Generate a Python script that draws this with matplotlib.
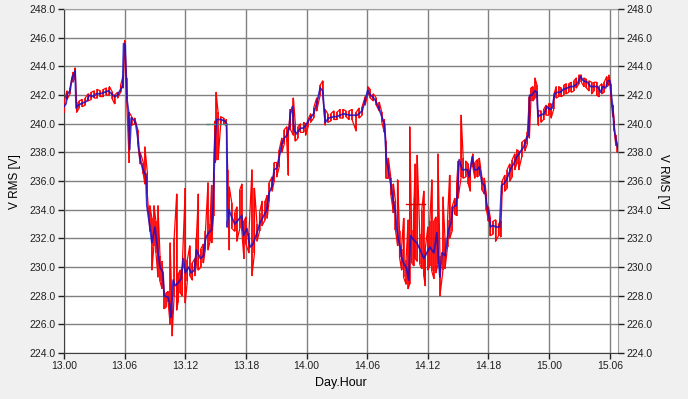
import numpy as np
import matplotlib
matplotlib.use("Agg")
import matplotlib.pyplot as plt

plt.rcParams['font.family'] = ['Liberation Sans', 'DejaVu Sans']

# blue series: hours since day 13 00:00, volts
blue_h = [0.0, 0.2, 0.35, 0.6, 0.8, 1.0, 1.1, 1.2, 1.4, 1.7, 2.0, 2.3, 2.5, 2.9, 3.2, 3.6, 4.0, 4.4, 4.7, 5.0,
          5.3, 5.6, 5.8, 5.9, 6.05, 6.15, 6.25, 6.4, 6.5, 6.65, 6.9, 7.1, 7.35, 7.5, 7.8, 8.1, 8.2, 8.5, 8.7, 9.0,
          9.2, 9.5, 9.8, 9.9, 10.3, 10.5, 10.6, 10.8, 11.0, 11.3, 11.6, 11.8, 12.0, 12.3, 12.6, 12.9, 13.1, 13.5, 13.8, 14.0,
          14.3, 14.6, 14.75, 14.95, 15.1, 15.5, 15.9, 16.1, 16.15, 16.3, 16.6, 16.9, 17.25, 17.6, 17.75, 18.1, 18.4, 18.7, 19.1, 19.4,
          19.7, 20.06, 20.3, 20.56, 20.8, 21.05, 21.3, 21.55, 21.8, 22.05, 22.3, 22.4, 22.6, 22.75, 23.0, 23.4, 23.7, 24.0, 24.36, 24.7,
          25.0, 25.35, 25.6, 25.84, 26.2, 26.7, 27.0, 27.65, 28.3, 29.0, 29.5, 29.8, 30.06, 30.2, 30.5, 30.8, 31.1, 31.45, 31.7, 31.9,
          32.1, 32.35, 32.6, 32.8, 32.9, 33.1, 33.3, 33.4, 33.6, 33.9, 34.1, 34.3, 34.6, 34.9, 35.25, 35.6, 35.9, 36.2, 36.6, 36.9,
          37.06, 37.2, 37.4, 37.7, 38.05, 38.3, 38.5, 38.8, 38.97, 39.1, 39.4, 39.6, 39.9, 40.1, 40.4, 40.6, 40.9, 41.1, 41.35, 41.6,
          41.8, 42.0, 42.2, 42.4, 42.8, 43.1, 43.3, 43.5, 43.8, 44.0, 44.3, 44.5, 44.8, 45.1, 45.5, 45.8, 45.97, 46.07, 46.3, 46.5,
          46.6, 46.8, 46.9, 47.1, 47.5, 47.8, 48.05, 48.3, 48.55, 48.8, 49.1, 49.4, 49.8, 50.1, 50.4, 50.8, 51.1, 51.4, 51.8, 52.1,
          52.4, 52.8, 53.1, 53.3, 53.6, 53.8, 54.0, 54.1, 54.3, 54.4, 54.6, 54.8]
blue_v = [241.2, 241.4, 242.1, 242.3, 243.2, 243.5, 243.7, 241.1, 241.3, 241.4, 241.5, 241.6, 242.0, 241.9, 242.1, 242.1, 242.2, 242.3, 242.1, 241.9,
          242.0, 242.4, 242.6, 245.6, 245.5, 243.0, 241.6, 240.8, 238.2, 240.4, 240.3, 240.0, 238.8, 237.7, 236.8, 236.4, 234.3, 232.8, 231.7, 232.8,
          231.6, 230.0, 229.6, 228.0, 227.9, 227.3, 226.5, 229.1, 228.7, 228.9, 229.2, 230.6, 229.6, 230.0, 229.6, 229.8, 231.2, 230.6, 230.8, 232.0,
          232.4, 232.6, 234.2, 239.0, 240.3, 240.3, 240.2, 240.0, 232.8, 234.0, 233.5, 233.0, 233.3, 233.6, 232.2, 232.7, 231.4, 231.6, 232.4, 233.1,
          233.5, 234.0, 235.2, 235.6, 236.8, 236.9, 237.7, 238.6, 239.0, 239.2, 239.8, 240.7, 241.2, 239.6, 239.3, 239.7, 239.7, 240.0, 240.4, 240.7,
          241.4, 242.5, 242.3, 240.1, 240.4, 240.5, 240.5, 240.7, 240.6, 240.6, 240.9, 241.65, 242.35, 242.1, 241.9, 241.65, 241.2, 240.5, 240.0, 237.5,
          236.8, 235.7, 234.5, 233.8, 232.8, 231.9, 231.3, 230.7, 230.3, 229.9, 229.1, 232.2, 231.9, 231.7, 231.2, 230.6, 231.0, 231.4, 231.0, 232.4,
          230.5, 229.3, 231.0, 230.8, 232.6, 233.1, 234.2, 234.3, 235.5, 237.5, 236.8, 236.8, 236.8, 236.3, 237.7, 236.8, 236.8, 237.0, 235.9, 235.7,
          234.5, 233.8, 232.8, 232.9, 232.8, 232.8, 235.7, 235.8, 236.1, 236.5, 237.0, 237.2, 237.7, 238.0, 238.4, 239.1, 239.2, 242.0, 242.0, 242.2,
          242.3, 242.2, 240.5, 240.6, 240.7, 241.2, 241.0, 241.1, 242.1, 242.2, 242.2, 242.4, 242.5, 242.6, 242.6, 242.8, 243.3, 243.0, 242.9, 242.6,
          242.6, 242.6, 242.2, 242.6, 242.5, 243.0, 243.0, 242.35, 241.1, 240.0, 238.9, 238.3]

# red series: per time bin, lowest and highest reading
red_h = [0.0, 0.3, 0.6, 0.9, 1.1, 1.25, 1.5, 1.8, 2.1, 2.4, 2.7, 3.0, 3.3, 3.6, 3.9, 4.2, 4.5, 4.8, 5.0, 5.3,
         5.6, 5.85, 6.0, 6.2, 6.45, 6.7, 7.0, 7.3, 7.55, 7.85, 8.0, 8.25, 8.5, 8.7, 8.9, 9.1, 9.3, 9.5, 9.7, 9.9,
         10.1, 10.3, 10.5, 10.7, 10.9, 11.15, 11.3, 11.5, 11.7, 12.0, 12.2, 12.45, 12.7, 12.95, 13.1, 13.3, 13.55, 13.8, 14.0, 14.25,
         14.45, 14.6, 14.8, 14.95, 15.05, 15.25, 15.5, 15.8, 16.05, 16.2, 16.35, 16.6, 16.9, 17.1, 17.4, 17.6, 17.8, 18.0, 18.3, 18.6,
         18.85, 19.1, 19.35, 19.6, 19.9, 20.1, 20.3, 20.6, 20.8, 21.05, 21.3, 21.55, 21.8, 22.05, 22.2, 22.4, 22.7, 22.9, 23.15, 23.4,
         23.7, 23.9, 24.15, 24.4, 24.7, 25.0, 25.35, 25.6, 25.85, 26.1, 26.4, 26.7, 27.0, 27.3, 27.6, 27.9, 28.2, 28.5, 28.9, 29.2,
         29.5, 29.8, 30.05, 30.3, 30.6, 30.9, 31.2, 31.45, 31.7, 31.85, 32.1, 32.35, 32.6, 32.8, 33.0, 33.2, 33.4, 33.6, 33.85, 34.05,
         34.2, 34.4, 34.6, 34.75, 34.95, 35.2, 35.4, 35.6, 35.75, 36.0, 36.2, 36.4, 36.6, 36.8, 37.0, 37.2, 37.5, 37.7, 37.95, 38.15,
         38.4, 38.65, 38.85, 39.0, 39.3, 39.5, 39.75, 40.0, 40.2, 40.45, 40.65, 40.9, 41.1, 41.35, 41.6, 41.8, 42.0, 42.2, 42.45, 42.7,
         43.0, 43.2, 43.35, 43.6, 43.85, 44.1, 44.35, 44.6, 44.8, 45.0, 45.3, 45.6, 45.85, 46.05, 46.2, 46.4, 46.6, 46.8, 46.95, 47.2,
         47.45, 47.7, 47.95, 48.2, 48.45, 48.7, 48.95, 49.2, 49.45, 49.7, 49.95, 50.2, 50.45, 50.7, 50.95, 51.2, 51.45, 51.7, 51.95, 52.2,
         52.45, 52.7, 52.95, 53.2, 53.45, 53.7, 53.9, 54.1, 54.3, 54.45, 54.6, 54.75]
red_lo = [240.8, 241.7, 242.1, 242.9, 243.3, 240.8, 241.1, 241.2, 241.3, 241.6, 241.7, 241.8, 241.8, 241.9, 241.9, 242.0, 242.0, 241.7, 241.4, 241.8,
          242.2, 242.5, 245.0, 241.7, 237.3, 239.9, 240.0, 238.6, 237.2, 236.5, 235.8, 235.1, 232.5, 229.8, 231.5, 231.0, 229.3, 229.0, 228.5, 227.1,
          227.2, 227.6, 226.0, 225.2, 228.0, 227.0, 227.6, 228.2, 228.0, 227.5, 229.0, 229.4, 229.1, 229.4, 230.2, 229.8, 230.0, 230.3, 231.3, 231.2,
          231.8, 231.7, 233.6, 237.3, 237.5, 237.5, 239.9, 240.0, 239.9, 235.6, 231.2, 232.7, 232.5, 231.8, 232.7, 232.5, 230.6, 231.6, 231.0, 229.4,
          231.0, 231.8, 232.5, 232.9, 233.3, 233.4, 234.6, 235.3, 236.0, 236.3, 237.0, 238.0, 238.6, 238.7, 236.4, 239.6, 239.2, 238.8, 239.0, 239.4,
          239.4, 239.2, 239.8, 240.1, 240.4, 240.9, 242.0, 242.1, 239.9, 240.1, 240.2, 240.3, 240.3, 240.4, 240.4, 240.5, 240.3, 240.3, 239.5, 240.4,
          240.6, 241.3, 242.0, 241.8, 241.6, 241.3, 240.9, 240.1, 239.4, 236.2, 236.2, 235.0, 233.8, 232.6, 231.5, 230.7, 229.8, 229.3, 228.8, 228.5,
          228.8, 230.3, 230.1, 230.6, 230.4, 230.2, 229.9, 229.4, 228.7, 229.8, 230.1, 229.7, 229.2, 229.6, 230.2, 228.0, 229.8, 229.9, 231.4, 232.0,
          232.5, 233.7, 233.6, 234.8, 236.3, 236.2, 236.3, 235.8, 235.3, 237.0, 236.2, 236.3, 236.4, 235.4, 235.1, 234.0, 233.2, 232.2, 232.3, 231.8,
          232.2, 232.1, 235.1, 235.3, 235.5, 236.0, 236.3, 236.8, 237.2, 236.8, 237.7, 238.1, 238.6, 239.0, 241.6, 241.6, 241.8, 241.8, 239.9, 240.1,
          240.3, 240.6, 240.6, 240.4, 241.0, 241.8, 241.9, 241.9, 242.0, 242.1, 242.2, 242.2, 242.3, 242.5, 242.8, 242.9, 242.6, 242.5, 242.3, 242.1,
          242.3, 242.0, 241.9, 242.1, 242.2, 242.6, 242.7, 241.9, 240.5, 239.5, 238.5, 238.0]
red_hi = [241.5, 242.3, 242.5, 243.6, 243.9, 241.5, 241.6, 241.7, 241.8, 242.1, 242.2, 242.3, 242.4, 242.3, 242.4, 242.5, 242.6, 242.2, 242.0, 242.2,
          242.7, 243.3, 245.8, 243.2, 240.8, 240.5, 240.4, 239.6, 238.0, 237.3, 238.4, 236.6, 234.3, 233.4, 234.3, 233.2, 234.3, 230.8, 230.4, 228.4,
          228.2, 228.3, 231.7, 227.0, 232.0, 235.1, 229.5, 229.8, 230.0, 235.5, 230.5, 231.5, 230.3, 230.6, 232.0, 235.1, 231.3, 231.6, 232.5, 235.9,
          233.0, 235.7, 236.6, 240.2, 242.2, 240.8, 240.5, 240.4, 240.3, 236.8, 235.6, 234.5, 233.8, 234.2, 235.4, 235.8, 233.2, 233.5, 232.4, 236.8,
          235.5, 233.0, 233.8, 234.6, 234.6, 235.0, 235.9, 236.3, 237.3, 237.3, 238.2, 239.0, 239.6, 239.8, 239.3, 241.0, 241.8, 239.9, 239.8, 240.0,
          240.1, 240.0, 240.3, 240.7, 241.1, 241.8, 242.7, 243.0, 241.0, 240.7, 240.7, 240.9, 240.8, 241.0, 241.0, 240.9, 240.9, 241.0, 240.8, 241.1,
          241.2, 241.9, 242.6, 242.4, 242.1, 241.8, 241.5, 240.8, 240.3, 238.8, 237.6, 236.2, 235.8, 234.6, 236.1, 232.5, 231.3, 233.4, 230.5, 233.3,
          239.8, 232.6, 233.8, 237.2, 237.8, 232.3, 234.0, 235.3, 231.3, 232.8, 233.2, 236.1, 233.2, 233.5, 237.9, 230.8, 234.9, 232.0, 233.3, 236.4,
          234.2, 234.8, 235.8, 237.4, 240.6, 237.6, 237.4, 237.2, 236.8, 237.9, 237.3, 237.5, 237.6, 236.3, 236.2, 235.0, 234.2, 233.4, 233.2, 233.3,
          233.0, 233.2, 236.0, 236.4, 236.8, 237.2, 237.5, 237.9, 238.2, 238.1, 238.7, 238.9, 239.4, 241.9, 242.5, 242.6, 243.2, 242.7, 240.9, 240.9,
          241.0, 241.3, 241.4, 241.4, 242.0, 242.6, 242.6, 242.5, 242.7, 242.8, 242.8, 242.9, 243.0, 243.2, 243.4, 243.4, 243.2, 243.1, 243.0, 242.9,
          242.9, 242.9, 242.6, 242.8, 242.9, 243.3, 243.4, 242.8, 241.3, 240.2, 239.2, 238.5]

# cursor marks on the chart
cursor_green_h = [14.1, 16.1]
cursor_green_v = 240.0
cursor_red_h = [33.8, 35.7]
cursor_red_v = 234.4

xtick_pos = [0, 6, 12, 18, 24, 30, 36, 42, 48, 54]
xtick_lab = ["13.00", "13.06", "13.12", "13.18", "14.00", "14.06", "14.12", "14.18", "15.00", "15.06"]
ytick_pos = np.arange(224, 248.1, 2)
ytick_lab = ["%.1f" % v for v in ytick_pos]

# red drawn as vertical low/high strokes joined at the bin ends
zx, zy = [], []
for i in range(len(red_h)):
    if i % 2 == 0:
        zx += [red_h[i], red_h[i]]
        zy += [red_lo[i], red_hi[i]]
    else:
        zx += [red_h[i], red_h[i]]
        zy += [red_hi[i], red_lo[i]]

fig = plt.figure(figsize=(6.88, 3.99), dpi=100, facecolor='#f0f0f0')
ax = fig.add_axes([0.093, 0.115, 0.805, 0.862])
ax.set_facecolor('white')

ax.plot(zx, zy, color='#ff0000', lw=0.9, zorder=3)
ax.vlines(red_h, red_lo, red_hi, color='#ff0000', lw=1.1, zorder=3)
ax.plot(blue_h, blue_v, color='#1a10c8', lw=1.3, alpha=0.85, zorder=4)
ax.plot(cursor_green_h, [cursor_green_v] * 2, color='#4a8a78', lw=1.0, ls=(0, (3, 1)), zorder=5)
ax.plot(cursor_red_h, [cursor_red_v] * 2, color='#e00000', lw=1.0, zorder=5)
ax.plot([34.6, 34.6], [cursor_red_v - 0.4, cursor_red_v + 0.4], color='#e00000', lw=1.0, zorder=5)

ax.set_xlim(0, 54.8)
ax.set_ylim(224, 248)
ax.set_xticks(xtick_pos)
ax.set_xticklabels(xtick_lab)
ax.set_yticks(ytick_pos)
ax.set_yticklabels(ytick_lab)
ax.grid(True, color='#808080', lw=1.0)
ax.set_axisbelow(True)
ax.tick_params(axis='both', labelsize=7.5, colors='#202020', length=4, width=1, direction='out', pad=2)

for s in ['top', 'right']:
    ax.spines[s].set_color('#a0a0a0')
for s in ['left', 'bottom']:
    ax.spines[s].set_color('#404040')

ax.set_ylabel("V RMS [V]", fontsize=8.5, labelpad=6)
ax.set_xlabel("Day.Hour", fontsize=9, labelpad=4)

ax2 = ax.twinx()
ax2.set_ylim(224, 248)
ax2.set_yticks(ytick_pos)
ax2.set_yticklabels(ytick_lab)
ax2.tick_params(axis='y', labelsize=7.5, colors='#202020', length=4, width=1, direction='out', pad=2)
for s in ax2.spines.values():
    s.set_visible(False)
ax2.set_ylabel("V RMS [V]", fontsize=8.5, rotation=-90, labelpad=12)

fig.savefig("out.png", dpi=100, facecolor=fig.get_facecolor())
